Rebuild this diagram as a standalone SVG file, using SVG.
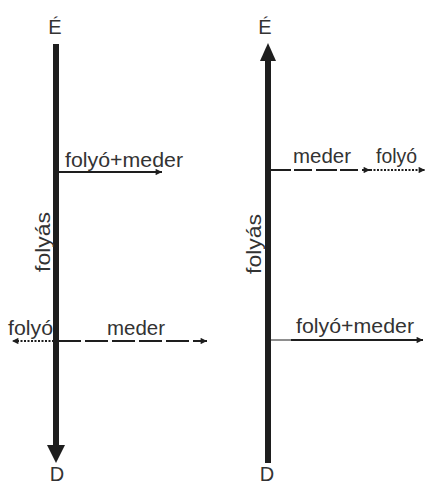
<svg xmlns="http://www.w3.org/2000/svg" width="428" height="486" viewBox="0 0 428 486">
<style>
text{font-family:"Liberation Sans",Arial,sans-serif;font-size:20px;fill:#333}
.axis{stroke:#1e1e1e;stroke-width:6;fill:none}
.solid{stroke:#1e1e1e;stroke-width:2;fill:none}
.thin{stroke:#1e1e1e;stroke-width:1;fill:none}
.dash{stroke:#1e1e1e;stroke-width:2;fill:none;stroke-dasharray:23 4}
.dot{stroke:#1e1e1e;stroke-width:2;fill:none;stroke-dasharray:2 1.5}
</style>
<defs>
<marker id="ah" viewBox="0 0 10 10" refX="10" refY="5" markerWidth="4" markerHeight="3.2" markerUnits="strokeWidth" orient="auto">
<path d="M0,0 L10,5 L0,10 Z" fill="#1e1e1e"/>
</marker>
</defs>
<g id="left-axis">
<line class="axis" x1="56" y1="44" x2="56" y2="447"/>
<path d="M47,445 L65,445 L56,463 Z" fill="#1e1e1e"/>
<text x="55" y="34" text-anchor="middle">É</text>
<text x="57" y="481" text-anchor="middle">D</text>
<text transform="translate(50,242) rotate(-90)" text-anchor="middle" textLength="60" lengthAdjust="spacingAndGlyphs">folyás</text>
</g>
<g id="right-axis">
<line class="axis" x1="268" y1="59" x2="268" y2="463"/>
<path d="M260,61 L276,61 L268,43 Z" fill="#1e1e1e"/>
<text x="265" y="34" text-anchor="middle">É</text>
<text x="267" y="481" text-anchor="middle">D</text>
<text transform="translate(261,244) rotate(-90)" text-anchor="middle" textLength="60" lengthAdjust="spacingAndGlyphs">folyás</text>
</g>
<g id="left-top-label">
<text x="65" y="167" textLength="118" lengthAdjust="spacingAndGlyphs">folyó+meder</text>
</g>
<g id="left-bottom-labels">
<text x="8" y="335" textLength="45" lengthAdjust="spacingAndGlyphs">folyó</text>
<text x="107" y="335" textLength="58" lengthAdjust="spacingAndGlyphs">meder</text>
</g>
<g id="right-top-labels">
<text x="293" y="163" textLength="58" lengthAdjust="spacingAndGlyphs">meder</text>
<text x="376" y="163" textLength="41" lengthAdjust="spacingAndGlyphs">folyó</text>
</g>
<g id="right-bottom-label">
<text x="296" y="333" textLength="118" lengthAdjust="spacingAndGlyphs">folyó+meder</text>
</g>
<g id="connectors">
<line class="solid" x1="58" y1="172" x2="162" y2="172" marker-end="url(#ah)"/>
<line class="dot" x1="54" y1="341" x2="12" y2="341" marker-end="url(#ah)"/>
<line class="dash" x1="58" y1="341" x2="207" y2="341" marker-end="url(#ah)"/>
<line class="dash" x1="270" y1="170" x2="370" y2="170" marker-end="url(#ah)" style="stroke-dasharray:21 3 18 4"/>
<line class="dot" x1="370" y1="170" x2="425" y2="170" marker-end="url(#ah)"/>
<line class="thin" x1="270" y1="340" x2="292" y2="340"/>
<line class="solid" x1="291" y1="340" x2="423" y2="340" marker-end="url(#ah)"/>
</g>
</svg>
